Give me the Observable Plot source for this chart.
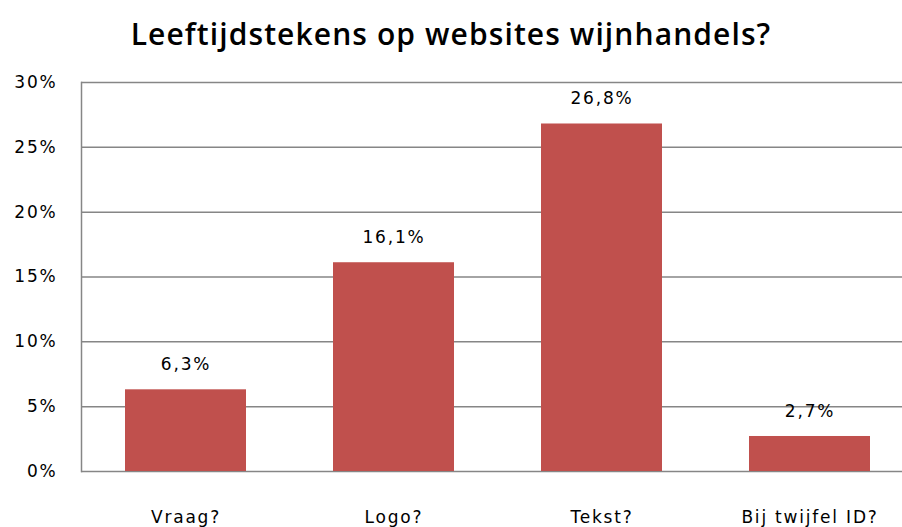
<!DOCTYPE html>
<html><head><meta charset="utf-8">
<script src="https://cdn.jsdelivr.net/npm/d3@7"></script>
<script src="https://cdn.jsdelivr.net/npm/@observablehq/plot@0.6"></script>
<style>
html,body{margin:0;padding:0;background:#fff;overflow:hidden;width:902px;height:527px;}
#title{height:72px;line-height:68px;text-align:center;font-family:"Open Sans",sans-serif;font-weight:600;font-size:30px;letter-spacing:1.1px;color:#000;}
#chart svg{overflow:visible;}
#chart text{letter-spacing:1.8px;}
</style></head>
<body>
<div id="title">Leeftijdstekens op websites wijnhandels?</div>
<div id="chart"></div>
<script>
const categories = ["Vraag?", "Logo?", "Tekst?", "Bij twijfel ID?"];
const values = [6.3, 16.1, 26.8, 2.7];
const valueLabels = ["6,3%", "16,1%", "26,8%", "2,7%"];
const yTicks = [0, 5, 10, 15, 20, 25, 30];

const data = categories.map((c, i) => ({cat: c, v: values[i], label: valueLabels[i]}));
const font = "DejaVu Sans, sans-serif";

const chart = Plot.plot({
  width: 902,
  height: 455,
  marginTop: 10,
  marginBottom: 56,
  marginLeft: 81,
  marginRight: -11,
  style: {fontFamily: font, fontSize: "17px", color: "#000", background: "#fff"},
  x: {domain: categories, paddingInner: 0.42, paddingOuter: 0.21, label: null},
  y: {domain: [0, 30], label: null},
  marks: [
    Plot.ruleY(yTicks, {stroke: "#868686", strokeWidth: 1.5}),
    Plot.frame({anchor: "left", stroke: "#868686", strokeWidth: 1.5}),
    Plot.barY(data, {x: "cat", y: "v", fill: "#C0504D"}),
    Plot.text(data, {x: "cat", y: "v", text: "label", dy: -25, fontSize: 17, fill: "#000"}),
    Plot.axisY(yTicks, {tickSize: 0, tickPadding: 24, tickFormat: d => d + "%", fontSize: 17}),
    Plot.axisX({tickSize: 0, tickPadding: 39, fontSize: 17})
  ]
});
document.getElementById("chart").appendChild(chart);
</script>
</body></html>
